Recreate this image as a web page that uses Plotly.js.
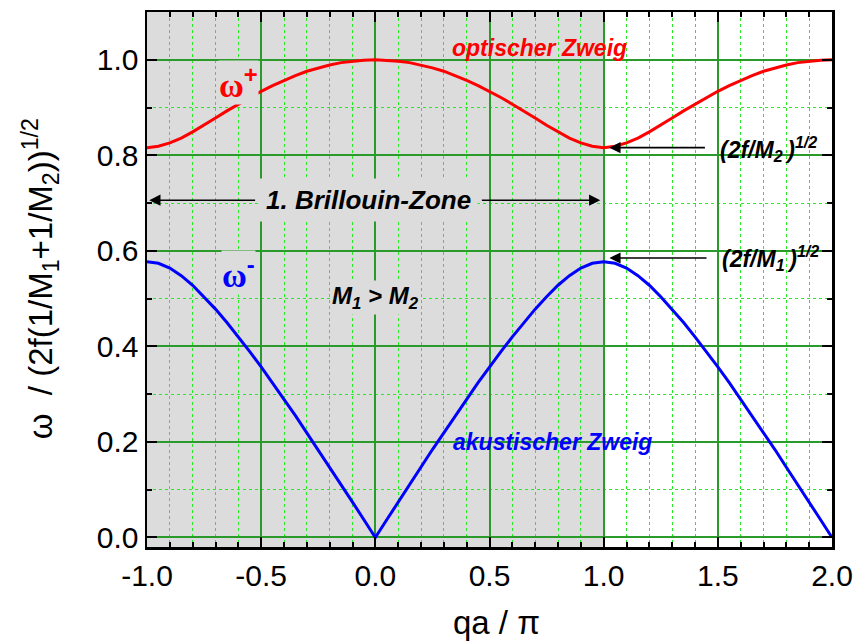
<!DOCTYPE html>
<html>
<head>
<meta charset="utf-8">
<script src="https://cdn.plot.ly/plotly-3.0.1.min.js"></script>
<style>html,body{margin:0;padding:0;background:#fff;}#chart{width:861px;height:644px;}</style>
</head>
<body>
<div id="chart"></div>
<script>
// qa / pi
const qa = [-1.00,-0.95,-0.90,-0.85,-0.80,-0.75,-0.70,-0.65,-0.60,-0.55,-0.50,-0.45,-0.40,-0.35,-0.30,-0.25,-0.20,-0.15,-0.10,-0.05,
  0.00,0.05,0.10,0.15,0.20,0.25,0.30,0.35,0.40,0.45,0.50,0.55,0.60,0.65,0.70,0.75,0.80,0.85,0.90,0.95,
  1.00,1.05,1.10,1.15,1.20,1.25,1.30,1.35,1.40,1.45,1.50,1.55,1.60,1.65,1.70,1.75,1.80,1.85,1.90,1.95,2.00];
// optical branch omega+
const omegaPlus = [0.816,0.819,0.826,0.836,0.849,0.863,0.878,0.893,0.907,0.921,0.934,0.946,0.957,0.967,0.976,0.983,0.989,0.994,0.997,0.999,
  1.000,0.999,0.997,0.994,0.989,0.983,0.976,0.967,0.957,0.946,0.934,0.921,0.907,0.893,0.878,0.863,0.849,0.836,0.826,0.819,
  0.816,0.819,0.826,0.836,0.849,0.863,0.878,0.893,0.907,0.921,0.934,0.946,0.957,0.967,0.976,0.983,0.989,0.994,0.997,0.999,1.000];
// acoustic branch omega-
const omegaMinus = [0.577,0.574,0.564,0.548,0.528,0.504,0.478,0.450,0.420,0.389,0.357,0.324,0.289,0.255,0.219,0.184,0.147,0.111,0.074,0.037,
  0.000,0.037,0.074,0.111,0.147,0.184,0.219,0.255,0.289,0.324,0.357,0.389,0.420,0.450,0.478,0.504,0.528,0.548,0.564,0.574,
  0.577,0.574,0.564,0.548,0.528,0.504,0.478,0.450,0.420,0.389,0.357,0.324,0.289,0.255,0.219,0.184,0.147,0.111,0.074,0.037,0.000];

const xTickVals = [-1.0,-0.5,0.0,0.5,1.0,1.5,2.0];
const xTickText = ['-1.0','-0.5','0.0','0.5','1.0','1.5','2.0'];
const yTickVals = [0.0,0.2,0.4,0.6,0.8,1.0];
const yTickText = ['0.0','0.2','0.4','0.6','0.8','1.0'];
const zone = [-1, 1];
const edgePlus = 0.816;
const edgeMinus = 0.577;

const F = '"Liberation Sans", Arial, sans-serif';
const GRAY = '#dcdcdc';

const traces = [
  {x: qa, y: omegaPlus, mode: 'lines', line: {color: '#ff0000', width: 3}, hoverinfo: 'skip'},
  {x: qa, y: omegaMinus, mode: 'lines', line: {color: '#0000ff', width: 3}, hoverinfo: 'skip'}
];

const minorCommon = {dtick: 0.1, tick0: 0, ticks: 'inside', ticklen: 5, tickwidth: 2, tickcolor: '#000',
  showgrid: true, gridcolor: '#22ee22', griddash: 'dot', gridwidth: 1};

const axisCommon = {
  showline: true, linecolor: '#000', linewidth: 2.5, mirror: 'ticks',
  ticks: 'inside', ticklen: 10, tickwidth: 2, tickcolor: '#000',
  showgrid: true, gridcolor: '#2a9a2a', gridwidth: 2,
  zeroline: false, tickmode: 'array',
  tickfont: {family: F, size: 30, color: '#000'},
};

const layout = {
  width: 861, height: 644,
  margin: {l: 147, r: 29, t: 12, b: 97},
  paper_bgcolor: '#fff', plot_bgcolor: '#fff',
  showlegend: false,
  xaxis: Object.assign({}, axisCommon, {
    range: [-1, 2], tickvals: xTickVals, ticktext: xTickText, minor: minorCommon
  }),
  yaxis: Object.assign({}, axisCommon, {
    range: [-0.02, 1.1], tickvals: yTickVals, ticktext: yTickText, minor: minorCommon
  }),
  shapes: [
    {type: 'rect', xref: 'x', yref: 'paper', x0: zone[0], x1: zone[1], y0: 0, y1: 1,
     fillcolor: GRAY, line: {width: 0}, layer: 'below'}
  ],
  annotations: [
    // axis titles
    {xref: 'paper', yref: 'paper', x: 0.51, y: -0.141, showarrow: false,
     text: 'qa / π', font: {family: F, size: 33, color: '#000'}, xanchor: 'center', yanchor: 'middle'},
    {xref: 'paper', yref: 'paper', x: -0.155, y: 0.502, showarrow: false, textangle: -90,
     text: 'ω\u00a0\u00a0/ (2f(1/M<sub>1</sub>+1/M<sub>2</sub>))<sup>1/2</sup>',
     font: {family: F, size: 33, color: '#000'}, xanchor: 'center', yanchor: 'middle'},
    // branch labels
    {x: -0.60, y: 0.953, showarrow: false,
     text: '<b><span style="font-family:Liberation Serif">ω</span><sup>+</sup></b>',
     font: {family: F, size: 34, color: '#ff0000'}, bgcolor: GRAY, borderpad: 0},
    {x: -0.60, y: 0.555, showarrow: false,
     text: '<b><span style="font-family:Liberation Serif">ω</span><sup>-</sup></b>',
     font: {family: F, size: 34, color: '#0000ff'}, bgcolor: GRAY, borderpad: 0},
    {x: 0.72, y: 1.024, showarrow: false, text: '<b><i>optischer Zweig</i></b>',
     font: {family: F, size: 23, color: '#ff0000'}},
    {x: 0.775, y: 0.199, showarrow: false, text: '<b><i>akustischer Zweig</i></b>',
     font: {family: F, size: 23, color: '#0000ff'}},
    {x: 0.0, y: 0.503, showarrow: false, text: '<b><i>M<sub>1</sub> > M<sub>2</sub></i></b>',
     font: {family: F, size: 24, color: '#000'}, bgcolor: GRAY},
    {x: -0.03, y: 0.706, showarrow: false, text: '<b><i>1. Brillouin-Zone</i></b>',
     font: {family: F, size: 26, color: '#000'}, bgcolor: GRAY, borderpad: 6},
    {x: 1.72, y: 0.814, showarrow: false, text: '<b><i>(2f/M<sub>2</sub>\u2009)<sup>1/2</sup></i></b>',
     font: {family: F, size: 23, color: '#000'}},
    {x: 1.73, y: 0.585, showarrow: false, text: '<b><i>(2f/M<sub>1</sub>\u2009)<sup>1/2</sup></i></b>',
     font: {family: F, size: 23, color: '#000'}},
    // arrows
    {x: -0.99, y: 0.706, ax: -0.52, ay: 0.706, axref: 'x', ayref: 'y', text: '', showarrow: true,
     arrowhead: 2, arrowsize: 1.4, arrowwidth: 1.6, arrowcolor: '#000'},
    {x: 0.985, y: 0.706, ax: 0.46, ay: 0.706, axref: 'x', ayref: 'y', text: '', showarrow: true,
     arrowhead: 2, arrowsize: 1.4, arrowwidth: 1.6, arrowcolor: '#000'},
    {x: 1.025, y: edgePlus, ax: 1.45, ay: edgePlus, axref: 'x', ayref: 'y', text: '', showarrow: true,
     arrowhead: 2, arrowsize: 1.4, arrowwidth: 1.6, arrowcolor: '#000'},
    {x: 1.025, y: edgeMinus + 0.008, ax: 1.457, ay: edgeMinus + 0.008, axref: 'x', ayref: 'y', text: '', showarrow: true,
     arrowhead: 2, arrowsize: 1.4, arrowwidth: 1.6, arrowcolor: '#000'}
  ]
};

Plotly.newPlot('chart', traces, layout, {staticPlot: true, displayModeBar: false});
</script>
</body>
</html>
